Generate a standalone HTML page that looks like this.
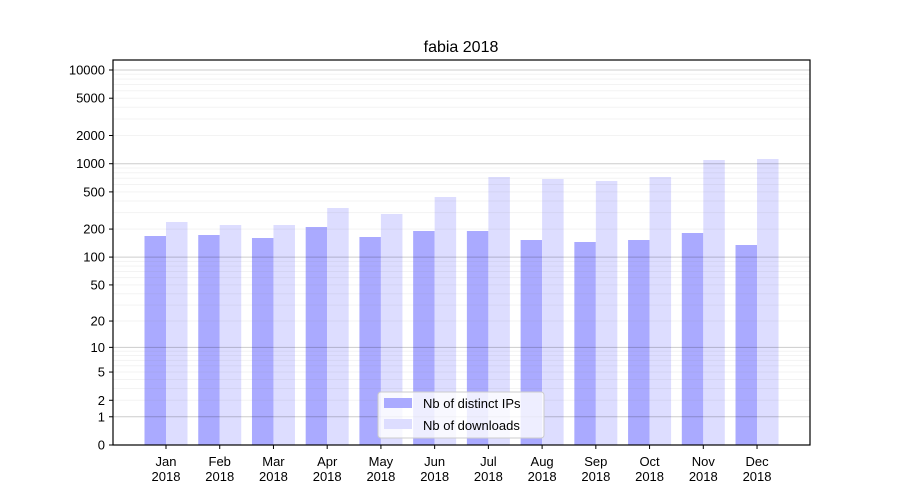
<!DOCTYPE html>
<html><head><meta charset="utf-8"><style>
html,body{margin:0;padding:0;background:#fff;}
svg{display:block;font-family:"Liberation Sans","DejaVu Sans",sans-serif;}
</style></head><body>
<svg id="s" width="900" height="500" viewBox="0 0 900 500" xmlns="http://www.w3.org/2000/svg">
<rect width="900" height="500" fill="#fff"/>
<text x="461" y="52" font-size="16" text-anchor="middle">fabia 2018</text>
<g id="bars"></g>
<g id="grid"></g>
<rect x="113" y="60" width="697" height="385" fill="none" stroke="#000" stroke-width="1.2"/>
<g id="ticks" font-size="13"></g>
<g>
<rect x="378" y="392" width="166" height="46" rx="3" fill="#fff" fill-opacity="0.8" stroke="#ccc"/>
<rect x="384" y="398" width="28" height="10" fill="#aaaaff"/>
<text x="423" y="408" font-size="13">Nb of distinct IPs</text>
<rect x="384" y="419" width="28" height="10" fill="#ddddff"/>
<text x="423" y="430" font-size="13">Nb of downloads</text>
</g>
</svg>
<script>
var ns="http://www.w3.org/2000/svg";
function el(p,t,a,txt){var e=document.createElementNS(ns,t);for(var k in a)e.setAttribute(k,a[k]);if(txt!=null)e.textContent=txt;p.appendChild(e);return e;}
function Y(v){return 445-93.75*Math.log10(1+v);}
var bars=document.getElementById('bars'),grid=document.getElementById('grid'),ticks=document.getElementById('ticks');
var dark=[236,235,238,227,237,231,231,240,242,240,233,245];
var light=[222,225,225,208,214,197,177,179,181,177,160,159];
var mon=["Jan","Feb","Mar","Apr","May","Jun","Jul","Aug","Sep","Oct","Nov","Dec"];
for(var i=0;i<12;i++){
 var c=166+53.73*i;
 el(bars,'rect',{x:c-21.5,y:dark[i],width:21.5,height:445-dark[i],fill:'#aaaaff'});
 el(bars,'rect',{x:c,y:light[i],width:21.5,height:445-light[i],fill:'#ddddff'});
 el(ticks,'line',{x1:c,x2:c,y1:445,y2:449,stroke:'#000'});
 el(ticks,'text',{x:c,y:466,'text-anchor':'middle'},mon[i]);
 el(ticks,'text',{x:c,y:481,'text-anchor':'middle'},'2018');
}
for(var d=1;d<=10000;d*=10){
 for(var m=1;m<10;m++){var v=d*m;if(v>12000)break;var y=Y(v);
  el(grid,'line',{x1:113,x2:810,y1:y,y2:y,stroke:m==1?'#000':'#888','stroke-opacity':m==1?0.2:0.1,'stroke-width':1});}
}
var tv=[0,1,2,5,10,20,50,100,200,500,1000,2000,5000,10000];
tv.forEach(function(v){var y=Y(v);
 el(ticks,'line',{x1:109,x2:113,y1:y,y2:y,stroke:'#000'});
 el(ticks,'text',{x:105,y:y+4.5,'text-anchor':'end'},String(v));});
</script>
</body></html>
